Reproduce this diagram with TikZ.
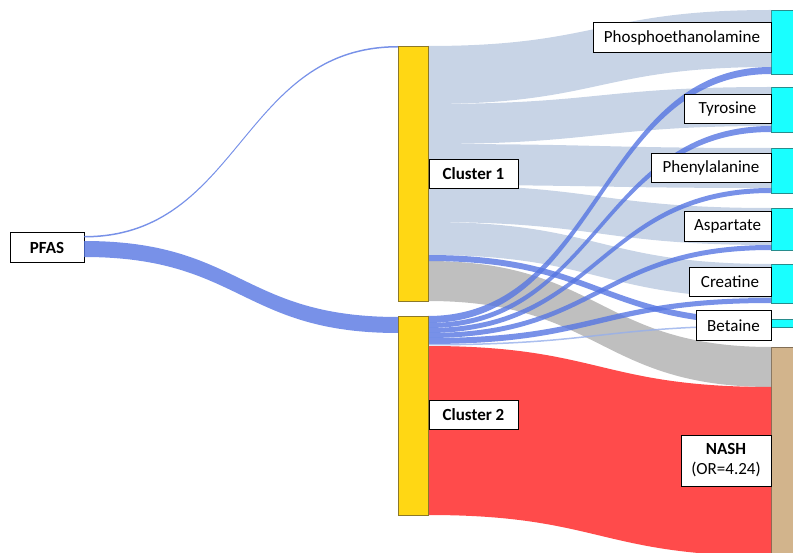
\documentclass[tikz,border=0pt]{standalone}
\usepackage{fontspec}
\setmainfont{Carlito}
\usetikzlibrary{calc}

\definecolor{flowlight}{RGB}{200,212,230}
\definecolor{flowblue}{RGB}{86,118,226}
\definecolor{flowpale}{RGB}{150,175,235}
\definecolor{flowgray}{RGB}{191,191,191}
\definecolor{flowred}{RGB}{255,75,75}
\definecolor{barGold}{RGB}{255,215,20}
\definecolor{barGoldEdge}{RGB}{140,120,40}
\definecolor{barCyan}{RGB}{25,255,255}
\definecolor{barCyanEdge}{RGB}{40,140,140}
\definecolor{barTan}{RGB}{210,180,140}
\definecolor{barTanEdge}{RGB}{130,110,85}

% Sankey band: style, source anchor, source top/bottom offsets,
% target anchor, target top/bottom offsets (offsets measured downwards)
\newcommand\flowband[7]{%
  \fill[#1] let \p1=($(#2)+(0,#3)$), \p2=($(#2)+(0,#4)$),
                \p3=($(#5)+(0,#6)$), \p4=($(#5)+(0,#7)$),
                \n1={0.5*\x1+0.5*\x3} in
    (\p1) .. controls (\n1,\y1) and (\n1,\y3) .. (\p3) -- (\p4)
          .. controls (\n1,\y4) and (\n1,\y2) .. (\p2) -- cycle;}

\tikzset{
  bar/.style={draw, line width=0.8pt, inner sep=0pt, outer sep=0pt,
              anchor=north west, minimum width=30},
  goldbar/.style={bar, fill=barGold, draw=barGoldEdge},
  cyanbar/.style={bar, fill=barCyan, draw=barCyanEdge},
  tanbar/.style={bar, fill=barTan, draw=barTanEdge},
  lbl/.style={draw=black, fill=white, line width=0.9pt, inner sep=0pt,
              outer sep=0pt, minimum height=30,
              font=\fontsize{17}{20}\selectfont},
  lightflow/.style={fill=flowlight},
  blueflow/.style={fill=flowblue, fill opacity=0.8},
  paleflow/.style={fill=flowpale, fill opacity=0.8},
  grayflow/.style={fill=flowgray},
  redflow/.style={fill=flowred},
}

\begin{document}
\begin{tikzpicture}[x=1pt,y=-1pt]
\useasboundingbox (0,0) rectangle (793,553);
\clip (0,0) rectangle (793,553);

% nodes: bars of the three columns
\node[goldbar, minimum height=255] (c1) at (398,46) {};
\node[goldbar, minimum height=199] (c2) at (398,316) {};
\node[cyanbar, minimum height=64] (bphos) at (771,10) {};
\node[cyanbar, minimum height=45] (btyr) at (771,87) {};
\node[cyanbar, minimum height=45] (bphe) at (771,148) {};
\node[cyanbar, minimum height=42] (basp) at (771,208) {};
\node[cyanbar, minimum height=39] (bcre) at (771,264) {};
\node[cyanbar, minimum height=8] (bbet) at (771,319) {};
\node[tanbar, minimum height=230] (bnash) at (771,347) {};

\node[lbl, anchor=north west, minimum width=74] (pfas) at (10,232.5)
  {\bfseries PFAS};

% PFAS to clusters
\flowband{blueflow}{pfas.north east}{3.5}{5}{c1.north west}{0}{1.5}
\flowband{blueflow}{pfas.north east}{8.5}{24.5}{c2.north west}{1}{17}

% Cluster 1 outflows
\flowband{lightflow}{c1.north east}{0}{58}{bphos.north west}{0}{57}
\flowband{lightflow}{c1.north east}{58}{98}{btyr.north west}{0}{39}
\flowband{lightflow}{c1.north east}{98}{139}{bphe.north west}{0}{40}
\flowband{lightflow}{c1.north east}{139}{176}{basp.north west}{0}{37}
\flowband{lightflow}{c1.north east}{176}{209}{bcre.north west}{0}{34}
\flowband{grayflow}{c1.north east}{215}{255}{bnash.north west}{0}{40}

% Cluster 2 to NASH
\flowband{redflow}{c2.north east}{30}{199}{bnash.north west}{40}{209}

% blue outflows
\flowband{blueflow}{c1.north east}{209}{215}{bbet.north west}{0}{6}
\flowband{blueflow}{c2.north east}{0}{7}{bphos.north west}{57}{64}
\flowband{blueflow}{c2.north east}{7}{12}{btyr.north west}{39}{45}
\flowband{blueflow}{c2.north east}{12}{17}{bphe.north west}{40}{45}
\flowband{blueflow}{c2.north east}{17}{22}{basp.north west}{37}{42}
\flowband{blueflow}{c2.north east}{22}{28}{bcre.north west}{34}{39}
\flowband{paleflow}{c2.north east}{28}{29.5}{bbet.north west}{6}{7.5}

% redraw bars above the bands
\node[goldbar, minimum height=255] at (398,46) {};
\node[goldbar, minimum height=199] at (398,316) {};

% labels
\node[lbl, anchor=north west, minimum width=89, minimum height=29] (l1) at (429,159)
  {\bfseries Cluster 1};
\node[lbl, anchor=north west, minimum width=89, minimum height=29] (l2) at (429,400.5)
  {\bfseries Cluster 2};
\node[lbl, anchor=north east, minimum width=178] (lphos) at (bphos.north west |- 0,22.5)
  {Phosphoethanolamine};
\node[lbl, anchor=north east, minimum width=87, minimum height=29.5] (ltyr) at (btyr.north west |- 0,94)
  {Tyrosine};
\node[lbl, anchor=north east, minimum width=120, minimum height=29.5] (lphe) at (bphe.north west |- 0,153.3)
  {Phenylalanine};
\node[lbl, anchor=north east, minimum width=87] (lasp) at (basp.north west |- 0,211.7)
  {Aspartate};
\node[lbl, anchor=north east, minimum width=82, minimum height=29.5] (lcre) at (bcre.north west |- 0,267)
  {Creatine};
\node[lbl, anchor=north east, minimum width=75, minimum height=29.5] (lbet) at (bbet.north west |- 0,310.7)
  {Betaine};
\node[lbl, anchor=north east, minimum width=90, minimum height=51, align=center] (lnash) at (bnash.north west |- 0,435)
  {\bfseries NASH\\(OR=4.24)};
\end{tikzpicture}
\end{document}
